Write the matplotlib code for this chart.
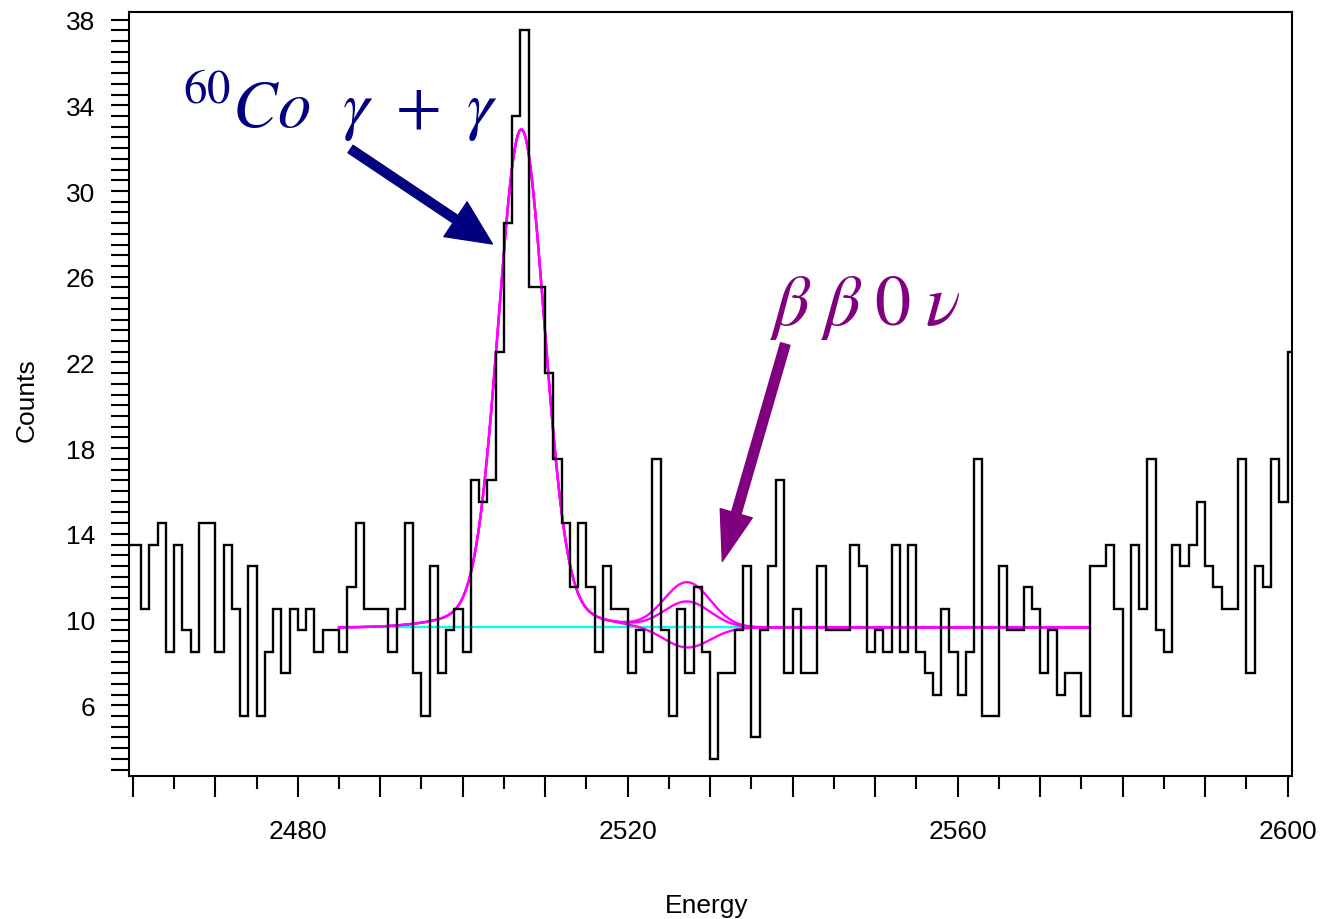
import matplotlib
matplotlib.use('Agg')
import matplotlib.pyplot as plt
import numpy as np
from matplotlib.ticker import MultipleLocator, FuncFormatter

plt.rcParams['mathtext.fontset'] = 'stix'

# histogram: lower bin edge 2459 ... 2600, 1 keV bins
first_edge = 2459
counts = [13.5, 13.5, 10.5, 13.5, 14.5, 8.5, 13.5, 9.5, 8.5, 14.5,
          14.5, 8.5, 13.5, 10.5, 5.5, 12.5, 5.5, 8.5, 10.5, 7.5,
          10.5, 9.5, 10.5, 8.5, 9.5, 9.5, 8.5, 11.5, 14.5, 10.5,
          10.5, 10.5, 8.5, 10.5, 14.5, 7.5, 5.5, 12.5, 7.5, 9.5,
          10.5, 8.5, 16.5, 15.5, 16.5, 22.5, 28.5, 33.5, 37.5, 25.5,
          25.5, 21.5, 17.5, 14.5, 11.5, 14.5, 11.5, 8.5, 12.5, 10.5,
          10.5, 7.5, 9.5, 8.5, 17.5, 9.5, 5.5, 10.5, 7.5, 11.5,
          8.5, 3.5, 7.5, 7.5, 9.5, 12.5, 4.5, 9.5, 12.5, 16.5,
          7.5, 10.5, 7.5, 7.5, 12.5, 9.5, 9.5, 9.5, 13.5, 12.5,
          8.5, 9.5, 8.5, 13.5, 8.5, 13.5, 8.5, 7.5, 6.5, 10.5,
          8.5, 6.5, 8.5, 17.5, 5.5, 5.5, 12.5, 9.5, 9.5, 11.5,
          10.5, 7.5, 9.5, 6.5, 7.5, 7.5, 5.5, 12.5, 12.5, 13.5,
          10.5, 5.5, 13.5, 10.5, 17.5, 9.5, 8.5, 13.5, 12.5, 13.5,
          15.5, 12.5, 11.5, 10.5, 10.5, 17.5, 7.5, 12.5, 11.5, 17.5,
          15.5, 22.5]
edges = np.arange(first_edge, first_edge + len(counts) + 1)

# fit: flat background + 60Co sum peak (core + broad part) + bb0v line
fit_range = (2485, 2576)
background = 9.63
co_center, co_amp, co_sigma = 2507.1, 22.25, 2.75
co_tail_amp, co_tail_sigma = 1.0, 7.0
bb_center, bb_sigma = 2527.2, 2.8
bb_amps = [2.1, 1.2, -0.95]

E = np.linspace(fit_range[0], fit_range[1], 800)
co_peak = (co_amp * np.exp(-(E - co_center)**2 / (2 * co_sigma**2))
           + co_tail_amp * np.exp(-(E - co_center)**2 / (2 * co_tail_sigma**2)))

fig = plt.figure(figsize=(13.29, 9.2), dpi=100)
ax = fig.add_axes([0.0968, 0.155, 0.8752, 0.8312])

ax.plot(fit_range, [background, background], color='#00FFFF', lw=1.7, zorder=2)
for a in bb_amps:
    bb = a * np.exp(-(E - bb_center)**2 / (2 * bb_sigma**2))
    ax.plot(E, background + co_peak + bb, color='#FF00FF', lw=1.7, zorder=3)

ax.stairs(counts, edges, color='black', lw=1.7, zorder=4)

ax.set_xlim(2459.5, 2600.5)
ax.set_ylim(2.68, 38.37)

# ticks
ax.xaxis.set_major_locator(MultipleLocator(10))
ax.xaxis.set_minor_locator(MultipleLocator(5))
ax.xaxis.set_major_formatter(FuncFormatter(lambda v, p: '%d' % v if round(v) % 40 == 0 else ''))
ax.yaxis.set_major_locator(MultipleLocator(1))
ax.yaxis.set_minor_locator(MultipleLocator(0.5))
ax.yaxis.set_major_formatter(FuncFormatter(lambda v, p: '%d' % v if round(v) % 4 == 2 else ''))
ax.tick_params(axis='x', which='major', direction='out', length=15, width=1.5,
               pad=16, labelsize=19)
ax.tick_params(axis='x', which='minor', direction='out', length=9.5, width=1.5)
ax.tick_params(axis='y', which='major', direction='out', length=13, width=1.5,
               pad=11, labelsize=19)
ax.tick_params(axis='y', which='minor', direction='out', length=13, width=1.5)
for lab in ax.get_xticklabels() + ax.get_yticklabels():
    lab.set_family('Liberation Sans')
for s in ax.spines.values():
    s.set_linewidth(1.5)

fig.text(27 / 1329, 1 - 400 / 920, 'Counts', rotation=90, ha='center', va='center',
         fontsize=19, family='Liberation Sans')
fig.text(707 / 1329, 1 - 906 / 920, 'Energy', ha='center', va='center',
         fontsize=19, family='Liberation Sans')

# annotations
navy = '#000080'
purple = '#800080'
ax.text(2466.0, 33.0, r'$^{60}Co\ \ \gamma\ +\ \gamma$', color=navy, fontsize=48,
        ha='left', va='baseline')
ax.annotate('', xy=(2503.6, 27.53), xytext=(2486.4, 31.96),
            arrowprops=dict(arrowstyle='simple,head_length=3.2,head_width=3.0,tail_width=0.65',
                            mutation_scale=10, color=navy, shrinkA=0, shrinkB=0))
ax.text(2537.3, 23.8, r'$\beta\;\beta\;0\;\nu$', color=purple, fontsize=52,
        ha='left', va='baseline')
ax.annotate('', xy=(2531.47, 12.72), xytext=(2539.1, 22.86),
            arrowprops=dict(arrowstyle='simple,head_length=3.6,head_width=2.4,tail_width=0.7',
                            mutation_scale=10, color=purple, shrinkA=0, shrinkB=0))

fig.savefig('out.png', dpi=100)
